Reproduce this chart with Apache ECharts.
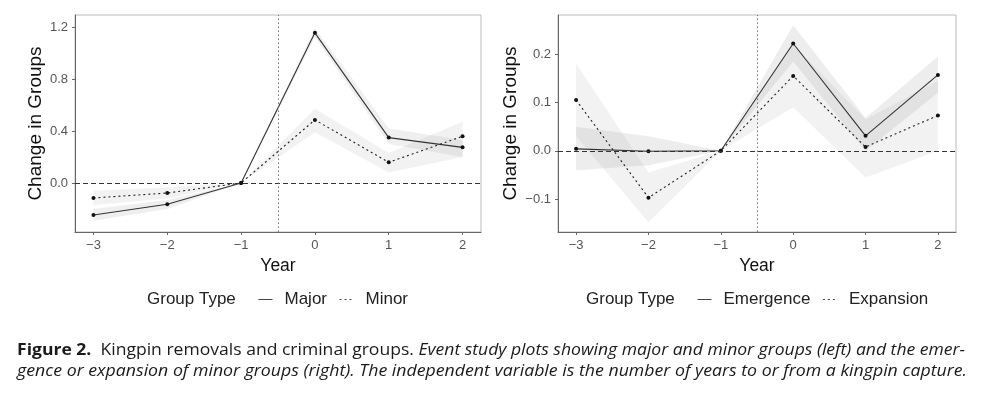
<!DOCTYPE html>
<html>
<head>
<meta charset="utf-8">
<script src="https://cdn.jsdelivr.net/npm/echarts@6/dist/echarts.min.js"></script>
<style>html,body{margin:0;padding:0;background:#fff;}#c{width:985px;height:394px;}</style>
</head>
<body>
<div id="c"></div>
<script>
// ---- data ----
const years = [-3, -2, -1, 0, 1, 2];
const yTicksLeft = [0, 0.4, 0.8, 1.2];
const yTicksRight = [-0.1, 0, 0.1, 0.2];

const majorVals = [-0.246, -0.164, 0, 1.155, 0.349, 0.274];
const majorLo   = [-0.29, -0.20, 0, 1.12, 0.30, 0.20];
const majorHi   = [-0.20, -0.13, 0, 1.19, 0.42, 0.33];
const minorVals = [-0.115, -0.077, 0, 0.485, 0.159, 0.359];
const minorLo   = [-0.17, -0.12, 0, 0.39, 0.08, 0.20];
const minorHi   = [-0.06, -0.035, 0, 0.57, 0.23, 0.47];

const emergVals = [0.004, -0.001, 0, 0.222, 0.031, 0.157];
const emergLo   = [-0.04, -0.03, 0, 0.185, 0.0, 0.12];
const emergHi   = [0.05, 0.03, 0, 0.26, 0.068, 0.195];
const expanVals = [0.105, -0.097, 0, 0.155, 0.008, 0.073];
const expanLo   = [0.03, -0.148, 0, 0.09, -0.055, 0.0];
const expanHi   = [0.18, -0.045, 0, 0.22, 0.065, 0.145];

const captureYear = -0.5;

// ---- helpers ----
const MINUS = '\u2212';
function fmtX(v){ return v < 0 ? MINUS + (-v) : String(v); }
function fmtY(v){ const s = Math.abs(v).toFixed(1); return v < -1e-9 ? MINUS + s : s; }
function pairs(xs, ys){ return xs.map((x, i) => [x, ys[i]]); }
function triples(xs, lo, hi){ return xs.map((x, i) => [x, lo[i], hi[i]]); }

function ribbon(idx, lo, hi, fill, op){
  return {
    type: 'custom', xAxisIndex: idx, yAxisIndex: idx, silent: true, z: 1,
    data: triples(years, lo, hi),
    encode: { x: 0, y: [1, 2] },
    renderItem: function(params, api){
      if (params.dataIndexInside !== 0) return null;
      const n = params.dataInsideLength;
      const up = [], dn = [];
      for (let i = 0; i < n; i++){
        up.push(api.coord([api.value(0, i), api.value(2, i)]));
        dn.push(api.coord([api.value(0, i), api.value(1, i)]));
      }
      return { type: 'polygon', shape: { points: up.concat(dn.reverse()) },
               style: { fill: fill, opacity: op } };
    }
  };
}
function lineSeries(idx, name, vals, dotted, withMarks){
  const s = {
    type: 'line', name: name, xAxisIndex: idx, yAxisIndex: idx,
    data: pairs(years, vals), z: 3,
    symbol: 'circle', symbolSize: 4, showSymbol: true,
    itemStyle: { color: '#111' },
    lineStyle: dotted ? { color: '#222', width: 1.1, type: [2, 3] } : { color: '#333', width: 1.1, type: 'solid' },
    emphasis: { disabled: true }, animation: false
  };
  if (withMarks){
    s.markLine = {
      silent: true, symbol: 'none', label: { show: false }, animation: false,
      data: [
        { yAxis: 0, lineStyle: { color: '#333', type: [5, 3], width: 1.2 } },
        { xAxis: captureYear, lineStyle: { color: '#777', type: [1.5, 2.5], width: 1 } }
      ]
    };
  }
  return s;
}

const axisFont = 'Liberation Sans, Arial, sans-serif';
function xAxisDef(gi){
  return {
    type: 'value', gridIndex: gi, min: -3.25, max: 2.25,
    name: 'Year', nameLocation: 'middle', nameGap: 20,
    nameTextStyle: { fontFamily: axisFont, fontSize: 17.5, color: '#111' },
    splitLine: { show: false },
    axisLine: { show: true, onZero: false, lineStyle: { color: '#666', width: 1 } },
    axisTick: { show: true, length: 3, customValues: years, lineStyle: { color: '#666' } },
    axisLabel: { customValues: years, formatter: fmtX, margin: 7, fontFamily: axisFont, fontSize: 13, color: '#555' }
  };
}
function yAxisDef(gi, min, max, ticks, gap){
  return {
    type: 'value', gridIndex: gi, min: min, max: max,
    name: 'Change in Groups', nameLocation: 'middle', nameGap: gap,
    nameTextStyle: { fontFamily: axisFont, fontSize: 19, color: '#111' },
    splitLine: { show: false },
    axisLine: { show: true, onZero: false, lineStyle: { color: '#666', width: 1 } },
    axisTick: { show: true, length: 3, customValues: ticks, lineStyle: { color: '#666' } },
    axisLabel: { customValues: ticks, formatter: fmtY, margin: 7, fontFamily: axisFont, fontSize: 13, color: '#555' }
  };
}

// caption text measurement
const capFont = '"Open Sans", "Noto Sans", sans-serif';
const capSize = 16.5;
const cap1b = 'Figure 2.';
const cap1n = '  Kingpin removals and criminal groups. ';
const cap1i = 'Event study plots showing major and minor groups (left) and the emer-';
const cap2i = 'gence or expansion of minor groups (right). The independent variable is the number of years to or from a kingpin capture.';
const cv = document.createElement('canvas').getContext('2d');
function w(txt, style){ cv.font = style + ' ' + capSize + 'px ' + capFont; return cv.measureText(txt).width; }
const w1 = w(cap1b, 'bold') + w(cap1n, 'normal') + w(cap1i, 'italic');
const w2 = w(cap2i, 'italic');
const sx1 = 948 / w1, sx2 = 950 / w2;

const legendCommon = {
  orient: 'horizontal', itemWidth: 14, itemHeight: 2, itemGap: 12, padding: 0,
  icon: 'inherit', inactiveColor: '#111',
  itemStyle: { opacity: 0 },
  lineStyle: { width: 1, color: '#444' },
  textStyle: { fontFamily: axisFont, fontSize: 17, color: '#222', padding: [0, 0, 0, 7] },
  selectedMode: false
};
const titleStyle = { fontFamily: axisFont, fontSize: 17, fontWeight: 'normal', color: '#222' };

const option = {
  backgroundColor: '#fff',
  animation: false,
  title: [
    { text: 'Group Type', left: 147, top: 291, padding: 0, textStyle: titleStyle },
    { text: 'Group Type', left: 586, top: 291, padding: 0, textStyle: titleStyle }
  ],
  legend: [
    Object.assign({}, legendCommon, { left: 258, top: 291, data: ['Major', 'Minor'] }),
    Object.assign({}, legendCommon, { left: 697, top: 291, data: ['Emergence', 'Expansion'] })
  ],
  grid: [
    { left: 75, right: 504, top: 15, bottom: 162, show: true, borderColor: '#bbb', borderWidth: 1 },
    { left: 558, right: 29, top: 15, bottom: 162, show: true, borderColor: '#bbb', borderWidth: 1 }
  ],
  xAxis: [xAxisDef(0), xAxisDef(1)],
  yAxis: [yAxisDef(0, -0.377, 1.292, yTicksLeft, 30), yAxisDef(1, -0.168, 0.281, yTicksRight, 38)],
  series: [
    ribbon(0, minorLo, minorHi, '#999', 0.13),
    ribbon(0, majorLo, majorHi, '#999', 0.16),
    lineSeries(0, 'Major', majorVals, false, true),
    lineSeries(0, 'Minor', minorVals, true, false),
    ribbon(1, expanLo, expanHi, '#999', 0.13),
    ribbon(1, emergLo, emergHi, '#999', 0.18),
    lineSeries(1, 'Emergence', emergVals, false, true),
    lineSeries(1, 'Expansion', expanVals, true, false)
  ],
  graphic: [
    { type: 'text', left: 17, top: 342, scaleX: sx1, originX: 0, silent: true,
      style: { text: '{b|' + cap1b + '}{n|' + cap1n + '}{i|' + cap1i + '}', fill: '#1a1a1a',
        rich: {
          b: { fontFamily: capFont, fontSize: capSize, fontWeight: 'bold', fill: '#1a1a1a' },
          n: { fontFamily: capFont, fontSize: capSize, fill: '#1a1a1a' },
          i: { fontFamily: capFont, fontSize: capSize, fontStyle: 'italic', fill: '#1a1a1a' }
        } } },
    { type: 'text', left: 17, top: 363, scaleX: sx2, originX: 0, silent: true,
      style: { text: cap2i, fontFamily: capFont, fontSize: capSize, fontStyle: 'italic', fill: '#1a1a1a' } }
  ]
};

const chart = echarts.init(document.getElementById('c'), null, { renderer: 'canvas' });
chart.setOption(option);
</script>
</body>
</html>
